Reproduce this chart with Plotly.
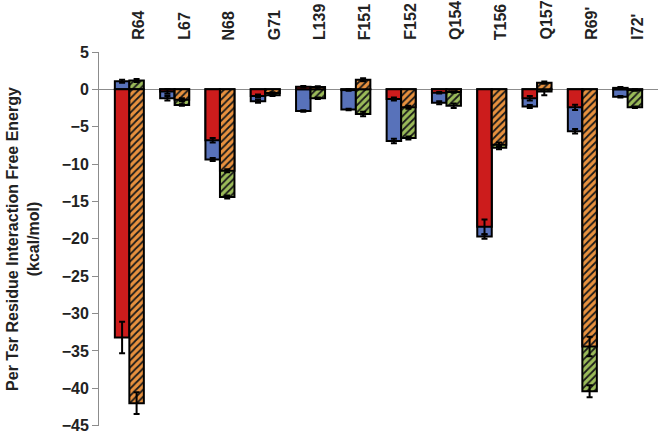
import plotly.graph_objects as go

residues = ["R64", "L67", "N68", "G71", "L139", "F151", "F152", "Q154", "T156", "Q157", "R69'", "I72'"]

# left pair of overlaid bars (blue behind, red in front)
blue = [1.1, -1.2, -9.4, -1.6, -2.9, -2.7, -6.9, -1.8, -19.7, -2.3, -5.6, -1.0]
blue_err = [0.2, 0.3, 0.2, 0.2, 0.1, 0.1, 0.3, 0.2, 0.3, 0.2, 0.3, 0.1]
red = [-33.2, -0.3, -6.8, -0.9, 0.35, -0.1, -1.3, -0.45, -18.4, -1.2, -2.4, 0.2]
red_err = [2.1, 0.3, 0.3, 0.2, 0.1, 0.1, 0.2, 0.1, 1.0, 0.3, 0.35, 0.1]

# right pair of overlaid bars (green behind, orange in front), hatched
green = [1.2, -2.1, -14.4, -0.8, -1.2, -3.3, -6.5, -2.2, -7.8, -0.3, -40.4, -2.4]
green_err = [0.2, 0.1, 0.2, 0.1, 0.1, 0.3, 0.2, 0.3, 0.2, 0.5, 0.8, 0.1]
orange = [-42.0, -1.4, -10.9, -0.5, 0.3, 1.3, -2.4, -0.35, -7.4, 0.9, -34.4, -0.1]
orange_err = [1.45, 0.2, 0.2, 0.1, 0.1, 0.2, 0.2, 0.1, 0.3, 0.15, 1.3, 0.1]

FONT = "Liberation Sans, Arial, sans-serif"
BAR_W = 0.32


def bar(vals, errs, color, offset, hatch=False):
    marker = dict(color=color, line=dict(color="black", width=2))
    if hatch:
        marker["pattern"] = dict(shape="/", fgcolor="#1a1a1a", bgcolor=color,
                                 size=5, solidity=0.35, fillmode="replace")
    return go.Bar(
        x=residues, y=vals, width=BAR_W, offset=offset, marker=marker,
        error_y=dict(type="data", array=errs, color="black", thickness=2, width=3),
        showlegend=False, hoverinfo="skip",
    )


fig = go.Figure([
    bar(blue, blue_err, "#5872BA", -BAR_W),
    bar(red, red_err, "#CC1C1C", -BAR_W),
    bar(green, green_err, "#9BBB59", 0, hatch=True),
    bar(orange, orange_err, "#E8913E", 0, hatch=True),
])

# residue names above the plot, rotated to read upwards
for r in residues:
    fig.add_annotation(
        x=r, xref="x", y=1, yref="paper", text=r, showarrow=False,
        textangle=-90, xanchor="center", yanchor="bottom",
        xshift=9, yshift=10,
        font=dict(family=FONT, size=16, weight="bold", color="#222222"),
    )

fig.update_layout(
    barmode="overlay",
    width=660, height=434,
    margin=dict(l=99, r=2, t=52, b=8),
    paper_bgcolor="white", plot_bgcolor="white",
    font=dict(family=FONT, color="#222222"),
)
fig.update_xaxes(
    type="category", range=[-0.67, 11.67], automargin=False,
    showticklabels=False, ticks="", showline=False, showgrid=False,
)
fig.update_yaxes(
    range=[-45.05, 5], dtick=5, showgrid=False, automargin=False,
    zeroline=True, zerolinecolor="#8c8c8c", zerolinewidth=1,
    showline=True, linecolor="#8c8c8c", linewidth=1,
    ticks="outside", ticklen=6, tickcolor="#8c8c8c",
    ticklabeloverflow="allow",
    tickfont=dict(size=16, weight="bold"),
    title=dict(text="Per Tsr Residue Interaction Free Energy<br>(kcal/mol)",
               font=dict(size=16, weight="bold"), standoff=18),
)

# drop the default 8px body margin so the figure fills the window
fig.write_html("out.html", config={"displayModeBar": False},
               post_script="document.body.style.margin = '0';")
